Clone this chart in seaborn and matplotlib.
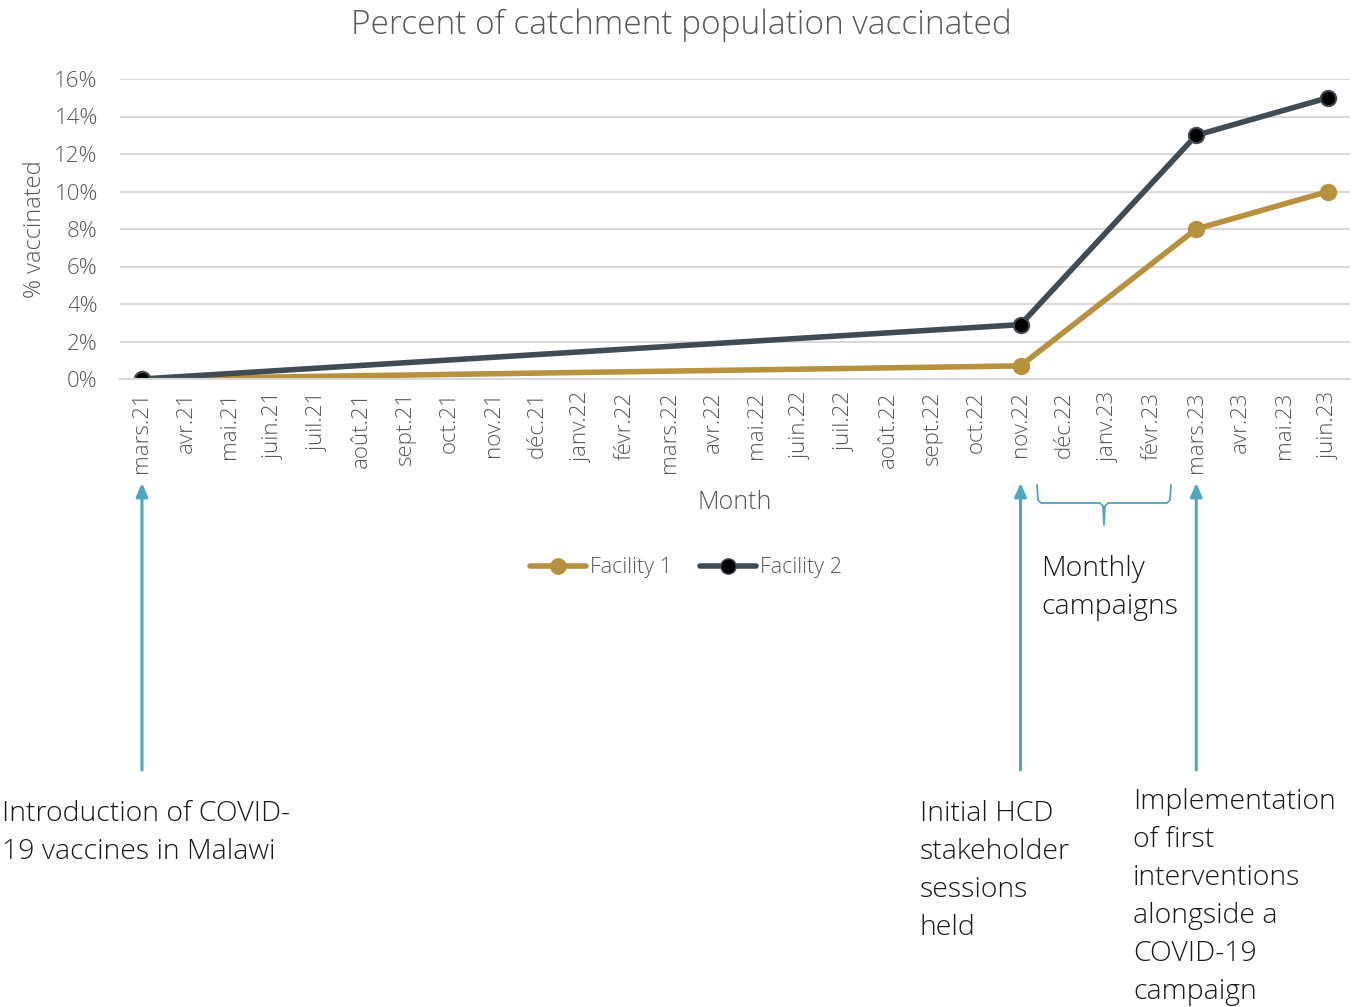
import matplotlib
matplotlib.use("Agg")
import matplotlib.pyplot as plt
import numpy as np
import pandas as pd
import seaborn as sns
from matplotlib.ticker import PercentFormatter, FixedLocator

# Months on the category axis
months = ["mars.21", "avr.21", "mai.21", "juin.21", "juil.21", "août.21", "sept.21",
          "oct.21", "nov.21", "déc.21", "janv.22", "févr.22", "mars.22", "avr.22",
          "mai.22", "juin.22", "juil.22", "août.22", "sept.22", "oct.22", "nov.22",
          "déc.22", "janv.23", "févr.23", "mars.23", "avr.23", "mai.23", "juin.23"]

# Survey points (month label -> % vaccinated)
survey_months = ["mars.21", "nov.22", "mars.23", "juin.23"]
facility_1 = [0.0, 0.7, 8.0, 10.0]
facility_2 = [0.0, 2.9, 13.0, 15.0]

series_names = ["Facility 1", "Facility 2"]
colors = {"Facility 1": "#B8913F", "Facility 2": "#404B53"}

rows = []
for name, vals in zip(series_names, [facility_1, facility_2]):
    for m, v in zip(survey_months, vals):
        rows.append({"idx": months.index(m), "pct": v, "Facility": name})
df = pd.DataFrame(rows)

sns.set_style("white")
plt.rcParams["font.family"] = ["Open Sans", "DejaVu Sans"]

W, H = 1362, 1007
fig = plt.figure(figsize=(W / 100, H / 100), dpi=100)
ax = fig.add_axes([120 / W, 1 - 379 / H, 1230 / W, 300 / H])

grey = "#595959"

sns.lineplot(data=df, x="idx", y="pct", hue="Facility", palette=colors,
             linewidth=4, marker="o", markersize=11, ax=ax, legend=False)
# marker faces: gold for facility 1, black for facility 2
for line, name in zip(ax.get_lines(), series_names):
    if name == "Facility 2":
        line.set_markerfacecolor("black")
        line.set_markeredgecolor("#404B53")
    else:
        line.set_markerfacecolor(colors[name])
        line.set_markeredgecolor(colors[name])
    line.set_markeredgewidth(1.5)
    line.set_solid_capstyle("round")

ax.set_xlim(-0.5, len(months) - 0.5)
ax.set_ylim(0, 16)
ax.yaxis.set_major_locator(FixedLocator(np.arange(0, 17, 2)))
ax.yaxis.set_major_formatter(PercentFormatter(decimals=0))
ax.grid(axis="y", color="#D9D9D9", linewidth=1.5)
ax.set_axisbelow(True)

# category ticks: marks at boundaries, labels at centers
ax.set_xticks(np.arange(-0.5, len(months), 1.0))
ax.set_xticklabels([])
ax.tick_params(axis="x", which="major", length=8, color="#D9D9D9", width=1.5, direction="out")
ax.set_xticks(np.arange(len(months)), minor=True)
ax.set_xticklabels(months, minor=True, rotation=90, fontsize=16, color=grey,
                   fontweight="light")
ax.tick_params(axis="x", which="minor", length=0, pad=9)
ax.tick_params(axis="y", length=0, labelsize=16, labelcolor=grey, pad=16)
for lab in ax.get_yticklabels():
    lab.set_fontweight("light")

for s in ["top", "right", "left"]:
    ax.spines[s].set_visible(False)
ax.spines["bottom"].set_color("#D9D9D9")
ax.spines["bottom"].set_linewidth(1.5)

ax.set_xlabel("Month", fontsize=18, color=grey, fontweight="light", labelpad=12)
ax.set_ylabel("% vaccinated", fontsize=17, color=grey, fontweight="light", labelpad=5)
fig.suptitle("Percent of catchment population vaccinated", fontsize=24, color=grey,
             fontweight="light", x=0.5, y=1 - 9 / H, va="top")

# legend
handles = []
for name in series_names:
    mfc = "black" if name == "Facility 2" else colors[name]
    h, = ax.plot([], [], color=colors[name], linewidth=4, marker="o", markersize=11,
                 markerfacecolor=mfc, markeredgecolor=colors[name], solid_capstyle="round")
    handles.append(h)
fig.legend(handles, series_names, loc="center", bbox_to_anchor=(686 / W, 1 - 568 / H),
           ncol=2, frameon=False, labelcolor=grey, handlelength=2.6,
           handletextpad=0.2, columnspacing=1.3,
           prop={"weight": "light", "size": 15.5})

# event arrows
arrow_color = "#4BA7C2"
for m in ["mars.21", "nov.22", "mars.23"]:
    i = months.index(m)
    ax.annotate("", xy=(i, 1 - 483 / H), xytext=(i, 1 - 770 / H),
                xycoords=("data", "figure fraction"), textcoords=("data", "figure fraction"),
                arrowprops=dict(arrowstyle="-|>,head_length=0.8,head_width=0.35",
                                color=arrow_color, lw=2.2, shrinkA=0, shrinkB=0))

# brace over the monthly campaigns
bx = [1037, 1038, 1041, 1100, 1103, 1104, 1105, 1108, 1167, 1170, 1171]
by = [485, 500, 503, 503, 506, 525, 506, 503, 503, 500, 485]
fig.add_artist(plt.Line2D([x / W for x in bx], [1 - y / H for y in by],
                          transform=fig.transFigure, color=arrow_color, lw=1.3))

txt_kw = dict(fontsize=20.5, color="#1a1a1a", fontweight="light", va="top", ha="left",
              linespacing=1.48)
fig.text(2 / W, 1 - 800 / H, "Introduction of COVID-\n19 vaccines in Malawi", **txt_kw)
fig.text(920 / W, 1 - 800 / H, "Initial HCD\nstakeholder\nsessions\nheld", **txt_kw)
fig.text(1133 / W, 1 - 788 / H,
         "Implementation\nof first\ninterventions\nalongside a\nCOVID-19\ncampaign", **txt_kw)
fig.text(1041 / W, 1 - 555 / H, "Monthly\ncampaigns", **txt_kw)

fig.savefig("out.png", dpi=100)
